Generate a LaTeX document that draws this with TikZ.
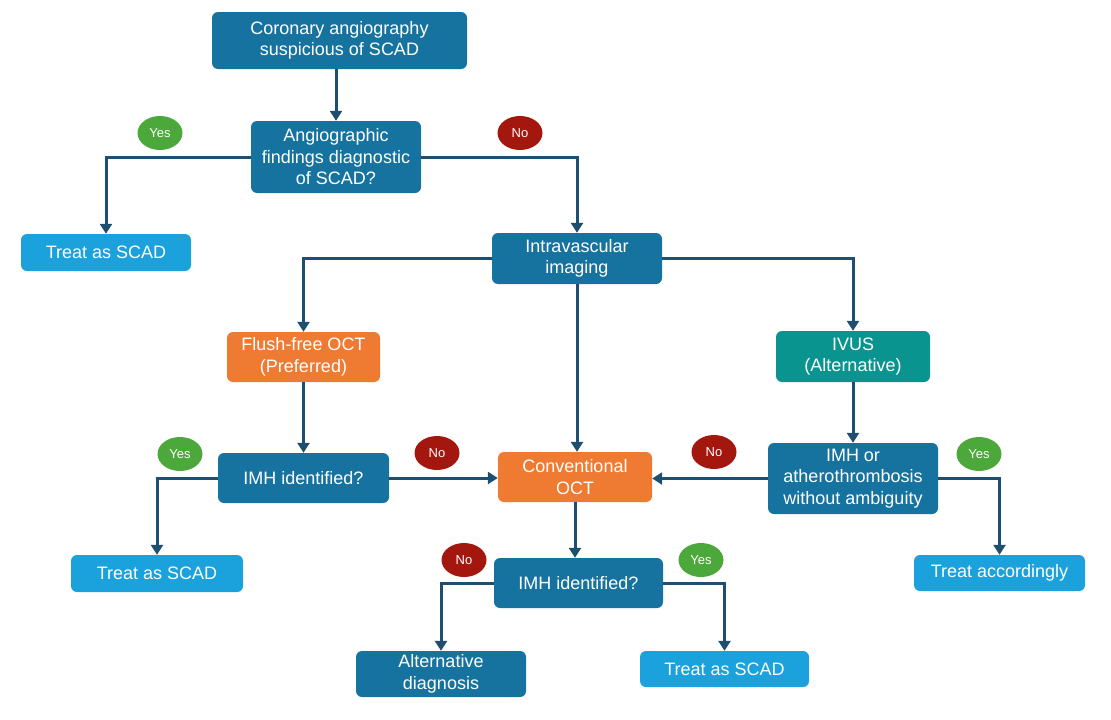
\documentclass[tikz,border=0pt]{standalone}
\usepackage{fontspec}
\setmainfont{Liberation Sans}
\usetikzlibrary{arrows.meta,shapes.geometric}
\definecolor{dblue}{HTML}{16739F}
\definecolor{lblue}{HTML}{1BA1DB}
\definecolor{orng}{HTML}{EF7A31}
\definecolor{teal2}{HTML}{0A9490}
\definecolor{arr}{HTML}{1D4F70}
\definecolor{ygreen}{HTML}{4CA83A}
\definecolor{nred}{HTML}{A3170F}
\tikzset{
  box/.style={rectangle, rounded corners=6pt, text=white, align=center, inner sep=1pt,
    font=\fontsize{18}{21.5}\selectfont},
  dbox/.style={box, fill=dblue},
  lbox/.style={box, fill=lblue},
  obox/.style={box, fill=orng},
  tbox/.style={box, fill=teal2},
  badge/.style={ellipse, minimum width=45pt, minimum height=34pt, inner sep=0pt, text=white,
    font=\fontsize{13}{15}\selectfont},
  yesb/.style={badge, fill=ygreen},
  nob/.style={badge, fill=nred},
  conn/.style={draw=arr, line width=3pt, -{Triangle[width=12pt,length=10pt]}},
}
\begin{document}
\begin{tikzpicture}[x=1pt,y=-1pt]
\useasboundingbox (0,0) rectangle (1111,720);
\node[dbox, minimum width=255pt, minimum height=57pt] (top) at (339.5,40.5) {Coronary angiography\\suspicious of SCAD};
\node[dbox, minimum width=170pt, minimum height=72pt] (q1) at (336,157) {Angiographic\\findings diagnostic\\of SCAD?};
\node[lbox, minimum width=170pt, minimum height=37pt] (t1) at (106,252.5) {Treat as SCAD};
\node[dbox, minimum width=170pt, minimum height=51pt] (iv) at (577,258.5) {Intravascular\\imaging};
\node[obox, minimum width=153pt, minimum height=50pt] (ff) at (303.5,357) {Flush-free OCT\\(Preferred)};
\node[tbox, minimum width=154pt, minimum height=51pt] (ivus) at (853,356.5) {IVUS\\(Alternative)};
\node[dbox, minimum width=171pt, minimum height=50pt] (q2) at (303.5,478) {IMH identified?};
\node[obox, minimum width=154pt, minimum height=50pt] (conv) at (575,477) {Conventional\\OCT};
\node[dbox, minimum width=170pt, minimum height=71pt] (q3) at (853,478.5) {IMH or\\atherothrombosis\\without ambiguity};
\node[lbox, minimum width=172pt, minimum height=37pt] (t2) at (157,573.5) {Treat as SCAD};
\node[lbox, minimum width=171pt, minimum height=36pt] (t3) at (999.5,573) {Treat accordingly};
\node[dbox, minimum width=169pt, minimum height=50pt] (q4) at (578.5,583) {IMH identified?};
\node[dbox, minimum width=170pt, minimum height=46pt] (alt) at (441,674) {Alternative\\diagnosis};
\node[lbox, minimum width=169pt, minimum height=36pt] (t4) at (724.5,669) {Treat as SCAD};

\node[yesb] (y1) at (160,133) {Yes};
\node[nob] (n1) at (520,133) {No};
\node[yesb] (y2) at (180,454) {Yes};
\node[nob] (n2) at (437,453) {No};
\node[nob] (n3) at (714,452) {No};
\node[yesb] (y3) at (979,454) {Yes};
\node[nob] (n4) at (464,560) {No};
\node[yesb] (y4) at (701,560) {Yes};

\draw[conn] (q1.north |- top.south) -- (q1.north);
\draw[conn] (q1.west) -| (t1.north);
\draw[conn] (q1.east) -| (iv.north);
\draw[conn] (iv.west) -| (ff.north);
\draw[conn] (iv.south) -- (iv.south |- conv.north);
\draw[conn] (iv.east) -| (ivus.north);
\draw[conn] (ff.south) -- (ff.south |- q2.north);
\draw[conn] (q2.west) -| (t2.north);
\draw[conn] (q2.east) -- (q2.east -| conv.west);
\draw[conn] (ivus.south) -- (q3.north);
\draw[conn] (q3.west) -- (q3.west -| conv.east);
\draw[conn] (q3.east) -| (t3.north);
\draw[conn] (conv.south) -- (conv.south |- q4.north);
\draw[conn] (q4.west) -| (alt.north);
\draw[conn] (q4.east) -| (t4.north);
\end{tikzpicture}
\end{document}
